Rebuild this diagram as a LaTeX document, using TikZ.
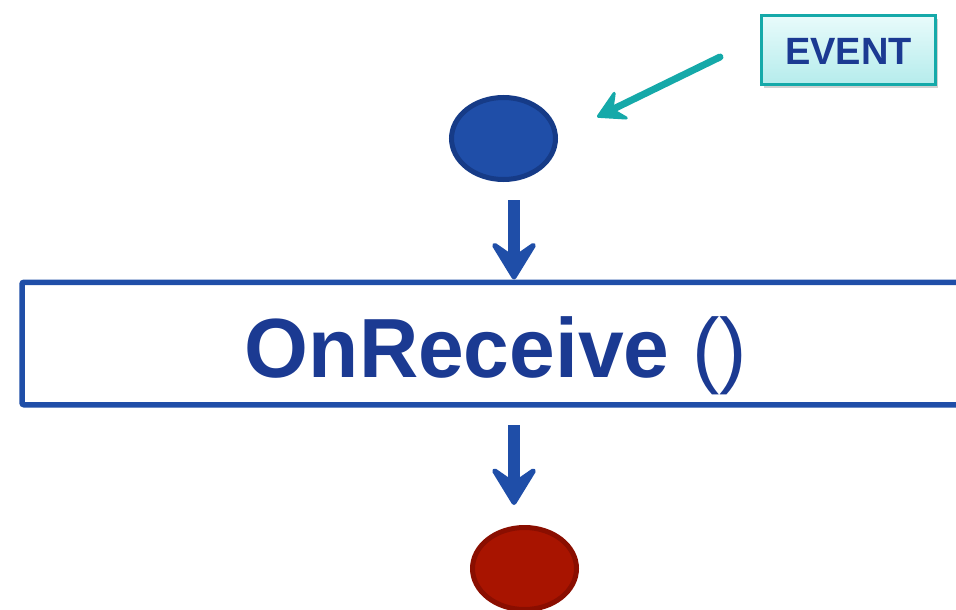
\documentclass[tikz,border=0pt]{standalone}
\usepackage{fontspec}
\setmainfont{Liberation Sans}
\newfontfamily\handlerfont[FakeStretch=0.978]{Liberation Sans}
\usetikzlibrary{arrows.meta,shapes.geometric,shadows}

\definecolor{flowblue}{HTML}{1F4EA8}
\definecolor{textblue}{HTML}{1B3A92}
\definecolor{startedge}{HTML}{163B87}
\definecolor{stopfill}{HTML}{A81400}
\definecolor{stopedge}{HTML}{8A0E00}
\definecolor{evteal}{HTML}{15A9A9}
\definecolor{evtop}{HTML}{E8FBFB}
\definecolor{evbottom}{HTML}{B5ECEC}

\begin{document}
\begin{tikzpicture}[x=1pt,y=-1pt,
    flow/.style={flowblue,line width=12pt,
        -{Stealth[length=45pt,width=55pt,inset=19pt,round,line width=5pt]}},
    state/.style={ellipse,line width=5pt,inner sep=0pt,
        minimum width=104pt,minimum height=82pt},
    evbox/.style={draw=evteal,line width=3pt,top color=evtop,bottom color=evbottom,
        minimum width=174pt,minimum height=69pt,inner sep=0pt,
        text height=30pt,text depth=0pt,text=textblue,
        font=\fontsize{38}{38}\selectfont\bfseries,
        drop shadow={shadow xshift=2pt,shadow yshift=-4pt,opacity=.18,fill=black}}]

    \useasboundingbox (0,0) rectangle (956,610);
    \clip (0,0) rectangle (956,610);

    % event source and its pointer
    \node[evbox] (event) at (848.5,50) {EVENT};
    \coordinate (evtail) at (720,57);
    \coordinate (evtip) at (597,117);
    \draw[evteal,line width=7pt,line cap=round,
        -{Stealth[length=32pt,width=36pt,inset=12pt,round,line width=3pt]}] (evtail) -- (evtip);

    % start / stop states
    \node[state,draw=startedge,fill=flowblue] (start) at (503.5,138.5) {};
    \node[state,draw=stopedge,fill=stopfill] (stop) at (524.5,568.5) {};

    % the handler
    \node[draw=flowblue,line width=5.5pt,rounded corners=2pt,
        minimum width=948pt,minimum height=122.5pt,inner sep=0pt,
        text height=70pt,text depth=3pt,text=textblue,
        font=\handlerfont\fontsize{84}{84}\selectfont\bfseries] (handler) at (496,343.5) {OnReceive {\mdseries()}};

    \coordinate (a1) at (514,200);
    \coordinate (a2) at (514,425);
    \draw[flow] (a1) -- (a1 |- handler.north);
    \draw[flow,shorten >=20pt] (a2) -- (a2 |- stop.north);

\end{tikzpicture}
\end{document}
